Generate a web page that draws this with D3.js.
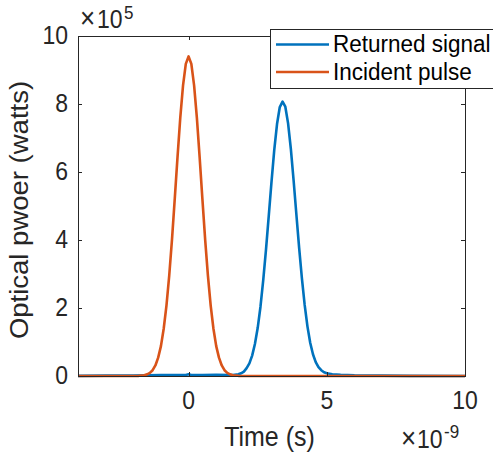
<!DOCTYPE html>
<html lang="en">
<head>
    <meta charset="UTF-8">
    <title>Returned signal vs incident pulse</title>
    <script src="https://d3js.org/d3.v7.min.js"></script>
    <style>
        body { margin: 0; background: #fff; }
        svg { display: block; font-family: "Liberation Sans", Arial, Helvetica, sans-serif; }
        .tick-label { font-size: 23px; fill: #262626; }
        .axis-label { font-size: 25px; fill: #262626; }
        .legend-text { font-size: 22.5px; fill: #000; }
    </style>
</head>
<body>
    <svg id="chart" width="493" height="459"></svg>
    <script>
        // time in ns (x 1e-9 s), power in units of 1e5 W
        const xTicks = [0, 5, 10];
        const yTicks = [0, 2, 4, 6, 8, 10];

        const incidentTime = [-4, -2, -1.8, -1.6, -1.5, -1.4, -1.3, -1.2, -1.1, -1.0, -0.9, -0.8, -0.7, -0.6, -0.5, -0.4, -0.3, -0.2, -0.1,
            0, 0.1, 0.2, 0.3, 0.4, 0.5, 0.6, 0.7, 0.8, 0.9, 1.0, 1.1, 1.2, 1.3, 1.4, 1.5, 1.6, 1.8, 2, 10];
        const incidentPower = [0, 0, 0.005, 0.02, 0.05, 0.09, 0.17, 0.31, 0.54, 0.88, 1.39, 2.07, 2.95, 4.01, 5.21, 6.44, 7.60, 8.55, 9.18,
            9.4, 9.18, 8.55, 7.60, 6.44, 5.21, 4.01, 2.95, 2.07, 1.39, 0.88, 0.54, 0.31, 0.17, 0.09, 0.05, 0.02, 0.005, 0, 0];

        const returnedTime = [-4, -3, -2, -1.5, -1, -0.5, -0.1, 0, 0.1, 0.5, 1, 1.5, 1.6, 1.8, 1.9, 2.0, 2.1, 2.2, 2.3, 2.4, 2.5, 2.6, 2.7, 2.8, 2.9,
            3.0, 3.1, 3.2, 3.3, 3.4, 3.5, 3.6, 3.7, 3.8, 3.9, 4.0, 4.1, 4.2, 4.3, 4.4, 4.5, 4.6, 4.7, 4.8, 4.9, 5.0, 5.2, 5.5, 6.0, 7.0, 8.0, 10];
        const returnedPower = [0.005, 0.01, 0.015, 0.02, 0.025, 0.03, 0.03, 0.05, 0.03, 0.03, 0.035, 0.03, 0.03, 0.05, 0.08, 0.13, 0.23, 0.37, 0.60, 0.94, 1.41, 2.03, 2.81, 3.71, 4.70,
            5.71, 6.65, 7.41, 7.91, 8.07, 7.92, 7.43, 6.68, 5.75, 4.75, 3.77, 2.87, 2.09, 1.46, 0.98, 0.64, 0.41, 0.26, 0.17, 0.11, 0.08, 0.05, 0.035, 0.02, 0.01, 0.005, 0];

        const seriesNames = ["Returned signal", "Incident pulse"];
        const seriesColors = ["#0072BD", "#D95319"];

        const width = 493, height = 459;
        const margin = { top: 36, right: 28, bottom: 83, left: 78 };
        const axisColor = "#262626";
        const stretch = 1.1; // reference text looks a bit taller than wide

        const svg = d3.select("#chart");

        const x = d3.scaleLinear().domain([-4, 10]).range([margin.left, width - margin.right]);
        const y = d3.scaleLinear().domain([0, 10]).range([height - margin.bottom, margin.top]);

        const series = [
            { name: seriesNames[0], color: seriesColors[0], pts: returnedTime.map((t, i) => [t, returnedPower[i]]) },
            { name: seriesNames[1], color: seriesColors[1], pts: incidentTime.map((t, i) => [t, incidentPower[i]]) }
        ];

        // curves
        const line = d3.line().x(d => x(d[0])).y(d => y(d[1]));
        svg.append("defs").append("clipPath").attr("id", "plot-clip")
            .append("rect")
            .attr("x", margin.left).attr("y", margin.top - 3)
            .attr("width", width - margin.left - margin.right)
            .attr("height", height - margin.top - margin.bottom + 6);

        svg.append("g").attr("clip-path", "url(#plot-clip)")
            .selectAll("path")
            .data(series)
            .join("path")
            .attr("fill", "none")
            .attr("stroke", d => d.color)
            .attr("stroke-width", 2.6)
            .attr("stroke-linejoin", "round")
            .attr("d", d => line(d.pts));

        // axes box with inward ticks on all sides
        const x0 = margin.left, x1 = width - margin.right;
        const y0 = height - margin.bottom, y1 = margin.top;
        const box = svg.append("g").attr("stroke", axisColor).attr("stroke-width", 1).attr("fill", "none");
        box.append("rect").attr("x", x0 + 0.5).attr("y", y1 + 0.5).attr("width", x1 - x0).attr("height", y0 - y1);

        const tickLen = 4;
        xTicks.forEach(t => {
            const px = Math.round(x(t)) + 0.5;
            box.append("line").attr("x1", px).attr("x2", px).attr("y1", y0).attr("y2", y0 - tickLen);
            box.append("line").attr("x1", px).attr("x2", px).attr("y1", y1).attr("y2", y1 + tickLen);
        });
        yTicks.forEach(t => {
            const py = Math.round(y(t)) + 0.5;
            box.append("line").attr("x1", x0).attr("x2", x0 + tickLen).attr("y1", py).attr("y2", py);
            box.append("line").attr("x1", x1).attr("x2", x1 - tickLen).attr("y1", py).attr("y2", py);
        });

        // helper: text placed at (px, py) with a slight vertical stretch
        function addText(parent, px, py, str, cls, anchor, extra) {
            return parent.append("text")
                .attr("class", cls)
                .attr("text-anchor", anchor || "start")
                .attr("transform", `translate(${px},${py}) scale(1,${stretch})` + (extra || ""))
                .text(str);
        }

        // tick labels
        xTicks.forEach(t => addText(svg, x(t), y0 + 33, t, "tick-label", "middle"));
        yTicks.forEach(t => addText(svg, x0 - 10, y(t) + 8, t, "tick-label", "end"));

        // exponent labels
        addText(svg, 80, 28, "\u00d7", "tick-label").style("font-size", "26px");
        addText(svg, 97, 28, "10", "tick-label");
        addText(svg, 124, 19, "5", "tick-label").style("font-size", "17px");

        addText(svg, 401, 448, "\u00d7", "tick-label").style("font-size", "26px");
        addText(svg, 417, 448, "10", "tick-label");
        addText(svg, 444, 438, "-9", "tick-label").style("font-size", "17px");

        // axis labels
        addText(svg, (x0 + x1) / 2 - 2, 446, "Time (s)", "axis-label", "middle");
        addText(svg, 28, 210, "Optical pwoer (watts)", "axis-label", "middle", " rotate(-90)");

        // legend
        const legend = svg.append("g");
        legend.append("rect")
            .attr("x", 270.5).attr("y", 29.5)
            .attr("width", 240).attr("height", 59)
            .attr("fill", "#fff")
            .attr("stroke", axisColor)
            .attr("stroke-width", 1);

        series.forEach((s, i) => {
            const ly = 44.5 + i * 27.5;
            legend.append("line")
                .attr("x1", 276).attr("x2", 329)
                .attr("y1", ly).attr("y2", ly)
                .attr("stroke", s.color)
                .attr("stroke-width", 2.6);
            addText(legend, 333, ly + 7.5, s.name, "legend-text");
        });
    </script>
</body>
</html>
